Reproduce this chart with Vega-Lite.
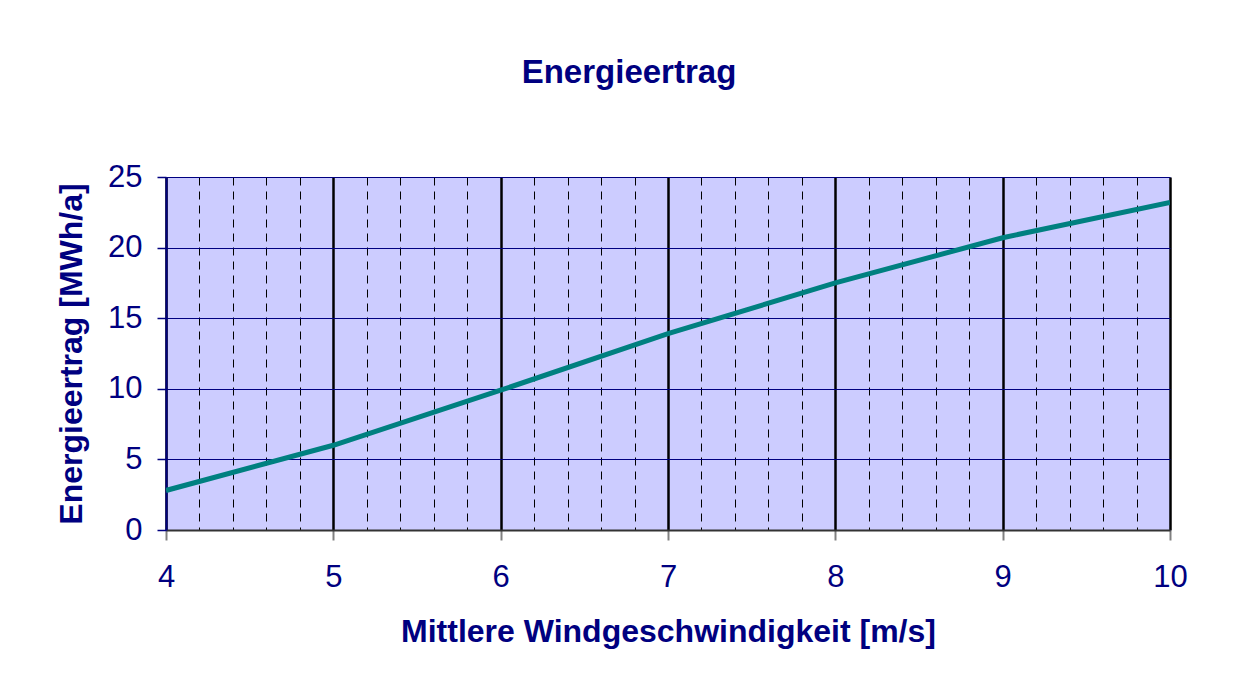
{
  "$schema": "https://vega.github.io/schema/vega-lite/v6.json",
  "width": 1004,
  "height": 353,
  "autosize": {"type": "none"},
  "padding": {"left": 166, "top": 177, "right": 67, "bottom": 143},
  "background": "white",
  "title": {
    "text": "Energieertrag",
    "font": "Liberation Sans",
    "fontSize": 33,
    "fontWeight": "bold",
    "color": "#000080",
    "anchor": "middle",
    "dx": -39,
    "offset": 71
  },
  "data": {
    "values": [
      {"v": 4, "e": 2.8},
      {"v": 5, "e": 6.0},
      {"v": 6, "e": 9.9},
      {"v": 7, "e": 13.9},
      {"v": 8, "e": 17.5},
      {"v": 9, "e": 20.7},
      {"v": 10, "e": 23.2}
    ]
  },
  "mark": {"type": "line", "color": "#008080", "strokeWidth": 5, "clip": true},
  "encoding": {
    "x": {
      "field": "v",
      "type": "quantitative",
      "scale": {"domain": [4, 10], "nice": false, "zero": false},
      "axis": {
        "values": [4, 4.2, 4.4, 4.6, 4.8, 5, 5.2, 5.4, 5.6, 5.8, 6, 6.2, 6.4, 6.6, 6.8, 7, 7.2, 7.4, 7.6, 7.8, 8, 8.2, 8.4, 8.6, 8.8, 9, 9.2, 9.4, 9.6, 9.8, 10],
        "grid": true,
        "gridColor": "#000000",
        "gridOpacity": 1,
        "gridWidth": {"condition": {"test": "abs(datum.value - round(datum.value)) > 0.01", "value": 1}, "value": 2.5},
        "gridDash": {"condition": {"test": "abs(datum.value - round(datum.value)) > 0.01", "value": [8, 6]}, "value": []},
        "tickColor": "#808080",
        "tickWidth": 2,
        "tickSize": 10,
        "tickOpacity": {"condition": {"test": "abs(datum.value - round(datum.value)) > 0.01", "value": 0}, "value": 1},
        "domain": true,
        "domainColor": "#333333",
        "domainWidth": 2,
        "labelExpr": "abs(datum.value - round(datum.value)) > 0.01 ? '' : format(datum.value, 'd')",
        "labelOverlap": false,
        "labelFlush": false,
        "labelFont": "Liberation Sans",
        "labelFontSize": 31,
        "labelColor": "#000080",
        "labelPadding": 22,
        "title": "Mittlere Windgeschwindigkeit [m/s]",
        "titleFont": "Liberation Sans",
        "titleFontSize": 32,
        "titleFontWeight": "bold",
        "titleColor": "#000080",
        "titlePadding": 24
      }
    },
    "y": {
      "field": "e",
      "type": "quantitative",
      "scale": {"domain": [0, 25], "nice": false},
      "axis": {
        "values": [0, 5, 10, 15, 20, 25],
        "grid": true,
        "gridColor": "#000080",
        "gridOpacity": 1,
        "gridWidth": 1,
        "tickColor": "#000080",
        "tickWidth": 1.5,
        "tickSize": 9,
        "domain": true,
        "domainColor": "#000080",
        "domainWidth": 2,
        "labelFlush": false,
        "labelFont": "Liberation Sans",
        "labelFontSize": 31,
        "labelColor": "#000080",
        "labelPadding": 15,
        "title": "Energieertrag [MWh/a]",
        "titleFont": "Liberation Sans",
        "titleFontSize": 32,
        "titleFontWeight": "bold",
        "titleColor": "#000080",
        "titlePadding": 19
      }
    }
  },
  "config": {
    "view": {"fill": "#CCCCFF", "stroke": "#C0C0C0", "strokeWidth": 1}
  }
}
